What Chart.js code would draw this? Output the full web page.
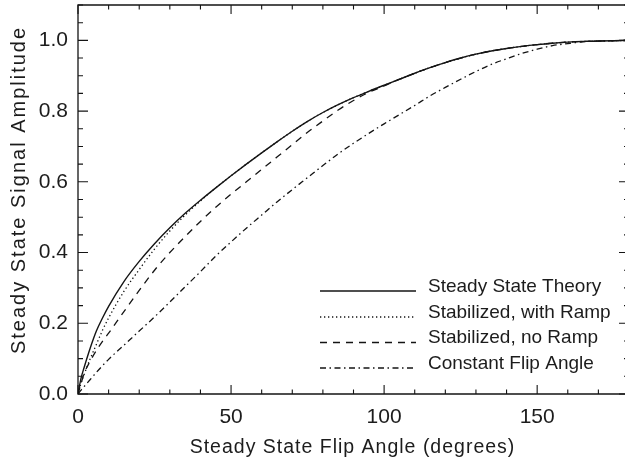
<!DOCTYPE html>
<html><head><meta charset="utf-8">
<script src="https://cdn.jsdelivr.net/npm/chart.js@4.4.0/dist/chart.umd.min.js"></script>
<style>
html,body{margin:0;padding:0;overflow:hidden;background:#fff}
#wrap{width:632px;height:457px;position:relative}
</style>
</head><body>
<div id="wrap"><canvas id="c"></canvas></div>
<script>
// ---- data ----
const angles   = [0,1,2,4,6,8,10,15,20,25,30,35,40,45,50,55,60,65,70,75,80,85,90,95,100,105,110,115,120,125,130,135,140,145,150,155,160,165,170,175,180];
const theory   = [0,0.045,0.075,0.13,0.178,0.215,0.248,0.318,0.375,0.425,0.47,0.511,0.548,0.583,0.617,0.65,0.682,0.713,0.743,0.771,0.796,0.818,0.838,0.856,0.873,0.89,0.907,0.923,0.937,0.95,0.961,0.97,0.977,0.983,0.988,0.992,0.995,0.997,0.998,0.999,1.0];
const withRamp = [0,0.03,0.055,0.1,0.14,0.18,0.215,0.29,0.352,0.41,0.461,0.506,0.546,0.583,0.617,0.65,0.682,0.713,0.743,0.771,0.796,0.818,0.838,0.856,0.873,0.89,0.907,0.923,0.937,0.95,0.961,0.97,0.977,0.983,0.988,0.992,0.995,0.997,0.998,0.999,1.0];
const noRamp   = [0,0.03,0.058,0.093,0.123,0.149,0.172,0.233,0.293,0.35,0.4,0.445,0.488,0.528,0.565,0.6,0.635,0.67,0.705,0.74,0.772,0.803,0.83,0.853,0.871,0.89,0.907,0.923,0.937,0.95,0.961,0.97,0.977,0.983,0.988,0.992,0.995,0.997,0.998,0.999,1.0];
const constant = [0,0.011,0.021,0.041,0.061,0.08,0.098,0.138,0.178,0.218,0.26,0.303,0.346,0.39,0.43,0.469,0.506,0.543,0.578,0.612,0.646,0.679,0.709,0.737,0.764,0.79,0.816,0.843,0.867,0.89,0.912,0.932,0.948,0.963,0.975,0.985,0.991,0.996,0.998,0.999,1.0];
const seriesLabels = ['Steady State Theory','Stabilized, with Ramp','Stabilized, no Ramp','Constant Flip Angle'];
const xTickValues = [0,50,100,150];
const yTickValues = [0.0,0.2,0.4,0.6,0.8,1.0];
const xTitle = 'Steady State Flip Angle (degrees)';
const yTitle = 'Steady State Signal Amplitude';

const INK = '#141414';
const FONT = '"Liberation Sans", Arial, sans-serif';

function pts(ys){ return angles.map((a,i)=>({x:a,y:ys[i]})); }

const frame = {
  id:'frame',
  afterDraw(chart){
    const {ctx, chartArea:a, scales:{x,y}} = chart;
    ctx.save();
    ctx.strokeStyle = INK; ctx.lineWidth = 1.3;
    ctx.beginPath();
    ctx.rect(a.left, a.top, a.right-a.left, a.bottom-a.top);
    ctx.stroke();
    ctx.lineWidth = 1.1;
    ctx.beginPath();
    for (let v=0; v<=180; v+=10){
      const px = x.getPixelForValue(v);
      const L = (v%50===0)?9:4.5;
      ctx.moveTo(px,a.bottom); ctx.lineTo(px,a.bottom-L);
      ctx.moveTo(px,a.top); ctx.lineTo(px,a.top+L);
    }
    for (let k=0; k<=22; k++){
      const v = k*0.05;
      const py = y.getPixelForValue(v);
      const L = (k%4===0)?10:5;
      ctx.moveTo(a.left,py); ctx.lineTo(a.left+L,py);
      ctx.moveTo(a.right,py); ctx.lineTo(a.right-L,py);
    }
    ctx.stroke();
    // axis titles
    ctx.fillStyle = '#1c1c1c';
    ctx.font = '19.5px ' + FONT;
    try{ ctx.letterSpacing = '1px'; }catch(e){}
    ctx.textAlign = 'center'; ctx.textBaseline = 'alphabetic';
    ctx.fillText(xTitle, (a.left+a.right)/2 - 1, 453);
    ctx.save();
    ctx.translate(24.5, 190);
    ctx.rotate(-Math.PI/2);
    ctx.font = '20px ' + FONT;
    try{ ctx.letterSpacing = '2px'; }catch(e){}
    ctx.fillText(yTitle, 0, 0);
    ctx.restore();
    // legend
    try{ ctx.letterSpacing = '0px'; }catch(e){}
    ctx.font = '19px ' + FONT;
    ctx.textAlign = 'left';
    const base = [291.5, 317.5, 343, 368.5];
    chart.data.datasets.forEach((ds,i)=>{
      ctx.save();
      ctx.strokeStyle = ds.borderColor; ctx.lineWidth = ds.borderWidth;
      ctx.setLineDash(ds.borderDash || []);
      ctx.beginPath(); ctx.moveTo(320, base[i]-0.5); ctx.lineTo(416, base[i]-0.5); ctx.stroke();
      ctx.restore();
      ctx.fillText(ds.label, 428, base[i]);
    });
    ctx.restore();
  }
};

const commonDs = {pointRadius:0, fill:false, cubicInterpolationMode:'monotone', borderColor:INK};
new Chart(document.getElementById('c'), {
  type:'line',
  data:{datasets:[
    Object.assign({label:seriesLabels[0], data:pts(theory),   borderWidth:1.4, borderDash:[]}, commonDs),
    Object.assign({label:seriesLabels[1], data:pts(withRamp), borderWidth:1.3, borderDash:[1.3,2.7]}, commonDs),
    Object.assign({label:seriesLabels[2], data:pts(noRamp),   borderWidth:1.3, borderDash:[7,6]}, commonDs),
    Object.assign({label:seriesLabels[3], data:pts(constant), borderWidth:1.3, borderDash:[6,3.5,1.5,3.5]}, commonDs)
  ]},
  options:{
    responsive:true, maintainAspectRatio:false, animation:false,
    layout:{padding:{top:5, right:3, left:0, bottom:0}},
    plugins:{legend:{display:false}, tooltip:{enabled:false}},
    scales:{
      x:{type:'linear', min:0, max:180,
         grid:{display:false, drawTicks:false}, border:{display:false},
         afterFit(s){ s.height = 63; s.paddingLeft = 0; s.paddingRight = 0; },
         afterBuildTicks(s){ s.ticks = xTickValues.map(v=>({value:v})); },
         ticks:{color:'#1c1c1c', font:{family:FONT, size:21}, padding:11, maxRotation:0, includeBounds:false,
                callback:(v)=>String(v)}},
      y:{type:'linear', min:0, max:1.1,
         grid:{display:false, drawTicks:false}, border:{display:false},
         afterFit(s){ s.width = 78; s.paddingTop = 0; s.paddingBottom = 0; },
         afterBuildTicks(s){ s.ticks = yTickValues.map(v=>({value:v})); },
         ticks:{color:'#1c1c1c', font:{family:FONT, size:21}, padding:10, includeBounds:false,
                callback:(v)=>Number(v).toFixed(1)}}
    }
  },
  plugins:[frame]
});
</script>
</body></html>
